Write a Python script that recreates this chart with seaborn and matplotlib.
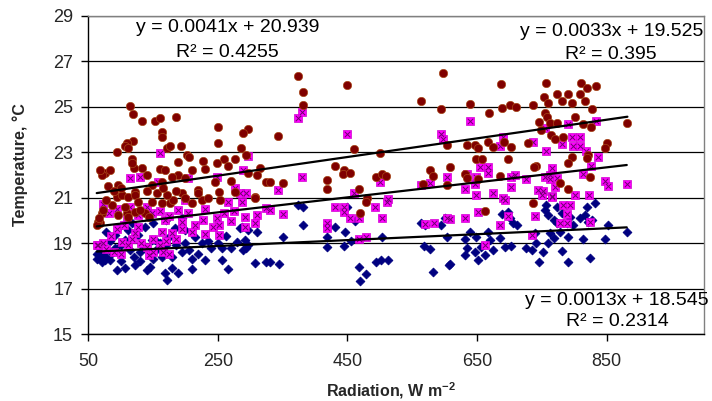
import numpy as np
import pandas as pd
import matplotlib
matplotlib.use("Agg")
import matplotlib.pyplot as plt
import seaborn as sns

# ---------------- data ----------------
red_x = [115,119,133,153,161,186,163,163,250,250,297,288,285,119,109,106,112,94,171,176,193,203,205,117,189,227,259,277,294,248,266,230,210,161,168,133,121,117,76,84,315,297,310,140,188,245,271,324,81,96,
         122,148,163,179,199,220,251,276,307,71,68,
         373,381,381,449,598,563,595,343,460,500,604,431,445,443,454,494,504,510,418,418,467,350,578,582,608,567,604,330,480,
         687,757,810,819,833,754,773,791,781,796,809,759,816,639,701,689,710,736,669,755,758,801,828,746,762,773,814,826,882,749,764,770,782,692,667,728,647,652,675,702,850,847,634,649,657,698,796,791,821,820,741,738,631,634,685,824,652,778,791,
         68,65,71,73,86,94,102,112,122,127,96,109,122,137,148,163,176,181,194,156,171,210,225,220,253,307,143,130,112,478,469,662,736,
         63,66,78,90,100,106,140,166,186,200,235]
red_y = [25.04,24.66,24.38,24.38,24.5,24.56,23.9,23.68,24.09,23.39,24.0,23.85,23.18,23.49,23.39,23.27,23.17,22.99,23.17,23.28,23.27,22.87,22.8,22.68,22.58,22.62,22.69,22.68,22.87,22.5,22.39,22.26,22.21,22.27,22.21,22.29,22.3,22.5,22.07,22.21,22.29,22.07,21.99,21.99,21.99,21.7,21.74,21.7,21.5,21.55,
         21.26,21.55,21.7,21.92,21.85,21.33,21.26,21.26,21.04,21.99,22.21,
         26.36,25.63,25.07,25.95,26.47,25.25,24.9,23.71,23.14,22.97,23.31,22.39,22.21,22.02,22.09,21.92,22.02,21.95,21.77,21.36,21.36,21.65,22.21,21.95,22.36,21.6,21.54,21.7,20.97,
         26.0,26.05,26.05,25.81,25.91,25.44,25.54,25.56,25.25,25.17,25.55,25.17,25.26,25.11,25.07,24.93,25.0,25.07,24.7,24.73,24.56,24.56,24.88,24.34,24.27,24.27,24.22,24.12,24.29,23.97,23.75,23.56,23.65,23.46,23.43,23.41,23.31,23.17,23.24,23.21,23.39,23.17,23.31,22.68,22.68,22.68,22.8,22.5,22.87,22.73,22.39,22.33,22.04,21.85,21.95,21.89,21.8,21.65,21.36,
         19.87,19.94,20.31,20.45,20.67,21.04,21.11,21.04,21.11,20.82,20.23,20.31,20.38,20.31,20.82,20.75,20.75,20.89,21.19,21.19,21.11,20.75,20.89,21.19,20.89,20.97,20.16,20.45,20.16,20.82,20.33,20.43,20.77,
         19.8,20.1,20.9,21.3,21.4,20.6,21.3,21.4,21.3,21.0,21.0]

mag_x = [161,114,130,204,248,288,297,277,294,158,
         374,380,450,594,598,380,343,500,563,578,604,460,513,
         639,791,833,690,685,736,755,781,796,809,798,809,818,756,837,654,667,667,635,765,762,826,813,708,703,726,755,762,773,770,649,647,702,631,847,852,881,744,751,648,674,690,750,765,822,801,
         65,73,72,109,127,148,168,194,215,189,199,204,227,248,251,271,287,266,284,292,310,325,243,251,292,307,143,140,112,102,179,163,122,127,
         85,95,105,118,132,150,160,170,185,195,210,230,90,100,150,165,175,82,95,115,140,160,175,230,260,275,63,78,
         431,445,445,454,467,493,511,504,351,418,418,468,479,570,583,608,603,330,
         631,652,685,698,739,734,662,783,793,788,778,788,824,693,765]
mag_y = [22.97,21.85,21.92,21.85,21.92,22.21,22.83,21.41,21.21,21.7,
         24.49,24.78,23.78,23.8,23.58,21.92,21.34,21.7,21.55,21.63,21.92,21.21,20.92,
         24.38,24.24,24.38,23.68,23.27,23.46,24.05,23.36,23.65,23.65,23.27,23.27,23.06,23.06,22.77,22.33,22.33,22.07,22.04,22.29,21.99,22.39,22.04,21.99,21.89,21.8,21.89,21.8,21.85,21.48,21.89,21.6,21.45,21.36,21.74,21.5,21.6,21.34,21.3,21.11,21.19,20.97,21.11,21.07,21.11,21.11,
         18.91,18.99,20.7,20.09,20.23,20.31,20.01,19.94,19.79,20.45,20.89,20.31,20.01,20.09,19.79,19.96,20.82,20.82,21.19,20.16,20.23,20.53,19.72,19.35,19.72,19.87,18.47,18.84,18.91,19.06,19.43,19.5,19.43,19.72,
         19.3,19.6,19.8,19.2,19.0,19.2,18.9,19.1,19.2,19.6,19.5,19.4,18.6,18.5,18.6,18.6,18.5,20.3,20.5,20.6,20.6,20.4,20.2,20.5,20.3,20.4,18.9,18.75,
         20.6,20.6,20.38,20.09,20.09,20.6,20.82,20.09,20.28,19.87,19.65,19.16,19.28,19.84,19.9,20.04,20.09,20.45,
         20.09,20.38,19.79,20.19,20.19,19.35,18.91,20.67,20.67,20.28,19.87,19.87,19.94,20.89,21.04]

blue_x = [68,71,76,94,107,122,140,145,168,171,179,189,210,230,210,256,266,307,325,271,279,292,297,310,287,256,240,225,199,215,184,173,153,163,179,194,68,73,78,86,91,84,78,91,107,96,112,127,148,137,
          63,63,100,115,120,130,135,155,160,170,185,200,205,220,235,250,262,118,150,170,195,83,100,130,150,
          374,382,450,381,351,431,446,418,418,444,455,462,504,330,344,467,478,469,494,502,512,563,570,595,600,568,578,582,606,608,604,
          284,297,289,294,
          757,755,760,773,781,768,773,788,798,793,809,819,832,816,821,828,852,881,688,698,701,711,706,639,631,649,667,670,685,631,634,647,652,662,675,656,693,703,726,734,741,751,760,768,781,791,814,847,745,791,824,739,762,778]
blue_y = [18.4,18.18,18.25,17.81,17.89,18.03,17.81,17.96,17.67,17.37,17.89,17.67,17.86,18.25,18.32,18.25,17.86,18.13,18.18,18.77,19.06,19.13,18.91,19.5,19.72,18.77,18.77,18.99,19.57,19.28,19.65,19.21,19.13,18.4,18.4,18.62,18.77,18.55,18.4,18.55,18.77,18.25,19.5,19.35,19.13,19.65,19.57,19.35,19.13,19.72,
          18.5,18.3,18.9,18.7,18.4,18.6,18.9,18.7,19.0,18.9,18.9,19.0,18.7,18.5,19.1,19.0,19.3,19.9,19.9,20.0,20.1,19.1,18.2,18.2,18.3,
          20.67,20.57,20.6,19.79,19.28,19.69,19.47,19.28,18.84,18.87,19.09,19.97,19.28,18.18,18.06,17.93,17.64,17.34,18.18,18.25,18.25,19.87,19.79,19.79,20.09,18.87,18.74,17.74,18.03,18.1,19.28,
          19.65,19.57,18.69,18.77,
          20.67,20.45,20.23,20.6,20.31,20.01,19.87,19.87,19.79,20.16,20.09,20.6,20.77,20.23,19.94,20.01,19.79,19.5,20.28,20.38,20.09,19.79,19.87,19.5,19.16,19.28,19.5,19.13,19.21,18.47,18.77,18.62,18.25,18.47,18.69,18.84,18.84,18.87,18.77,18.69,18.99,18.62,18.99,19.21,18.66,19.28,19.16,19.16,18.18,18.18,18.33,19.43,19.43,19.5]

# trend lines (coefficients as printed on the chart)
slopes = [0.0041, 0.0033, 0.0013]
intercepts = [20.939, 19.525, 18.545]
eq_labels = ["y = 0.0041x + 20.939", "y = 0.0033x + 19.525", "y = 0.0013x + 18.545"]
r2_labels = ["R² = 0.4255", "R² = 0.395", "R² = 0.2314"]

x_ticks = [50, 250, 450, 650, 850]
y_ticks = [15, 17, 19, 21, 23, 25, 27, 29]

# ---------------- plot ----------------
sns.set_theme(style="white")
plt.rcParams["font.family"] = ["Liberation Sans", "DejaVu Sans"]
plt.rcParams["mathtext.fontset"] = "custom"
plt.rcParams["mathtext.rm"] = "Liberation Sans"
plt.rcParams["mathtext.bf"] = "Liberation Sans:bold"

fig = plt.figure(figsize=(7.12, 4.01), dpi=100)
ax = fig.add_axes([0.124, 0.167, 0.8646, 0.794])

sns.scatterplot(x=blue_x, y=blue_y, marker="D", s=20, color="#000080",
                edgecolor="#000080", linewidth=0.6, ax=ax, zorder=3)
sns.scatterplot(x=mag_x, y=mag_y, marker="s", s=30, color="#FF00FF",
                edgecolor="#D000D0", linewidth=0.5, ax=ax, zorder=4)
sns.scatterplot(x=mag_x, y=mag_y, marker="x", s=16, color="#700070",
                linewidth=0.7, ax=ax, zorder=4.5)
sns.scatterplot(x=red_x, y=red_y, marker="o", s=36, color="#800000",
                edgecolor="#A84818", linewidth=0.5, ax=ax, zorder=5)

series_x = [red_x, mag_x, blue_x]
for xs, m, b in zip(series_x, slopes, intercepts):
    lx = np.array([min(xs), max(xs)], dtype=float)
    sns.lineplot(x=lx, y=m * lx + b, color="black", linewidth=1.6, ax=ax, zorder=6)

# equation annotations
eq_pos = [(265, 28.5, 27.36), (857, 28.3, 27.27), (866, 16.49, 15.54)]
for (xp, y1, y2), e, r in zip(eq_pos, eq_labels, r2_labels):
    ax.text(xp, y1, e, ha="center", va="center", fontsize=14, color="black", zorder=7)
    ax.text(xp, y2, r, ha="center", va="center", fontsize=14, color="black", zorder=7)

ax.set_xlim(50, 1000)
ax.set_ylim(15, 29)
ax.set_xticks(x_ticks)
ax.set_yticks(y_ticks)
ax.set_xticklabels([str(v) for v in x_ticks])
ax.set_yticklabels([str(v) for v in y_ticks])

ax.yaxis.grid(True, color="black", linewidth=0.9)
ax.xaxis.grid(False)
ax.set_axisbelow(True)

for side in ["top", "right"]:
    ax.spines[side].set_color("#808080")
    ax.spines[side].set_linewidth(1.0)
for side in ["left", "bottom"]:
    ax.spines[side].set_color("black")
    ax.spines[side].set_linewidth(1.0)

ax.tick_params(axis="x", direction="out", length=5, width=1, color="black",
               labelsize=13, pad=9, bottom=True)
ax.tick_params(axis="y", direction="out", length=5, width=1, color="black",
               labelsize=13, pad=6, left=True)

ax.set_xlabel(r"Radiation, W m$^{\mathbf{-2}}$", fontsize=11.5, fontweight="bold")
ax.set_ylabel("Temperature, °C", fontsize=11.5, fontweight="bold")
ax.xaxis.set_label_coords(0.4925, -0.145)
ax.yaxis.set_label_coords(-0.098, 0.531)

fig.savefig("out.png", dpi=100)
